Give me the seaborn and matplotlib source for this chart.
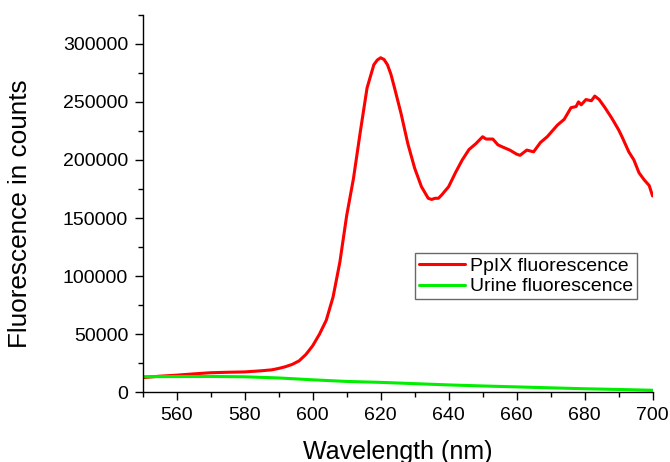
import numpy as np
import pandas as pd
import seaborn as sns
import matplotlib
matplotlib.use('Agg')
import matplotlib.pyplot as plt
from matplotlib.ticker import MultipleLocator

# PpIX spectrum
ppix_nm = [550, 555, 560, 565, 570, 575, 580, 585, 588, 590, 592, 594, 596, 598,
           600, 602, 604, 606, 608, 610, 612, 614, 616, 617, 618, 619, 620, 621,
           622, 623, 624, 626, 628, 630, 632, 634, 635, 636, 637, 638, 640, 642,
           644, 646, 648, 650, 651, 653, 654.5, 656, 658, 660, 661, 663, 665, 667,
           669, 672, 674, 676, 677.5, 678.2, 679, 680.4, 682, 683, 684.3, 686, 688,
           690, 691, 693, 694.5, 696, 697.5, 699, 700]
ppix_counts = [12600, 13800, 14700, 15800, 16800, 17200, 17500, 18500, 19300, 20500,
               22000, 24000, 27000, 32500, 40000, 50000, 62000, 82000, 112000, 152000,
               184000, 224000, 262000, 272000, 282000, 286000, 288000, 286500, 282000,
               274000, 263000, 240000, 214000, 193000, 177000, 167000, 166000, 167000,
               167000, 170000, 177000, 189000, 200000, 209000, 214000, 220000, 218000,
               218000, 213000, 211000, 208500, 205000, 204000, 208500, 207000, 215000,
               220000, 230000, 235000, 245000, 246000, 250000, 247500, 252000, 251000,
               255000, 252000, 245000, 236000, 226000, 220000, 207000, 200000, 189000,
               183000, 178000, 169000]

# urine background
urine_nm = [550, 560, 570, 580, 590, 600, 610, 620, 630, 640, 650, 660, 670, 680, 690, 700]
urine_counts = [13400, 13500, 13600, 13300, 12300, 10700, 9300, 8500, 7400, 6300,
                5400, 4600, 3800, 3000, 2400, 1700]

sns.set_theme(style='ticks')
plt.rcParams['font.family'] = ['Liberation Sans', 'DejaVu Sans']
plt.rcParams['text.color'] = 'black'
plt.rcParams['axes.labelcolor'] = 'black'

fig = plt.figure(figsize=(6.7, 4.62), dpi=100)
ax = fig.add_axes([0.213, 0.151, 0.761, 0.817])

df1 = pd.DataFrame({'nm': ppix_nm, 'counts': ppix_counts})
df2 = pd.DataFrame({'nm': urine_nm, 'counts': urine_counts})
sns.lineplot(data=df1, x='nm', y='counts', ax=ax, color='#ff0000', lw=2.2, label='PpIX fluorescence')
sns.lineplot(data=df2, x='nm', y='counts', ax=ax, color='#00ee00', lw=2.2, label='Urine fluorescence')

ax.set_xlim(550, 700)
ax.set_ylim(0, 325000)
ax.set_xticks([560, 580, 600, 620, 640, 660, 680, 700])
ax.xaxis.set_minor_locator(MultipleLocator(10))
ax.yaxis.set_major_locator(MultipleLocator(50000))
ax.yaxis.set_minor_locator(MultipleLocator(25000))
ax.tick_params(which='major', direction='out', length=5.5, width=1, pad=5,
               labelsize=14, colors='black')
ax.tick_params(which='minor', direction='out', length=3.5, width=1, colors='black')
for s in ['top', 'right']:
    ax.spines[s].set_visible(False)
for s in ['left', 'bottom']:
    ax.spines[s].set_linewidth(1)
    ax.spines[s].set_color('black')

ax.set_xlabel('Wavelength (nm)', fontsize=18, labelpad=12)
ax.set_ylabel('Fluorescence in counts', fontsize=18.8)
ax.yaxis.set_label_coords(-0.217, 0.472)

leg = ax.legend(loc='upper right', bbox_to_anchor=(0.97, 0.368), fontsize=14,
                frameon=True, fancybox=False, handlelength=2.4, borderpad=0.2,
                labelspacing=0.15, handletextpad=0.25, borderaxespad=0)
leg.get_frame().set_edgecolor('#444444')
leg.get_frame().set_linewidth(1)

fig.savefig('out.png', dpi=100)
